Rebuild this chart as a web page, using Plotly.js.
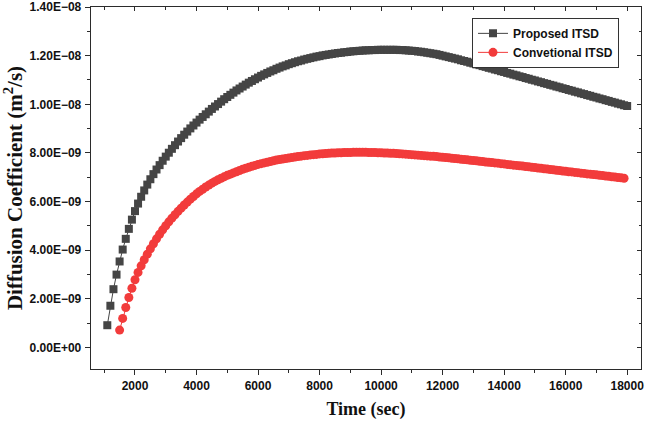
<!DOCTYPE html>
<html>
<head>
<meta charset="utf-8">
<script src="https://cdn.plot.ly/plotly-3.0.1.min.js"></script>
<style>
  html, body { margin: 0; padding: 0; background: #ffffff; }
  #chart { width: 646px; height: 421px; }
</style>
</head>
<body>
<div id="chart"></div>
<script>
// Time axis (sec) for the proposed ITSD series
const proposedTime = [
  1100, 1200, 1300, 1400, 1500, 1600, 1700, 1800, 1900, 2000,
  2100, 2200, 2300, 2400, 2500, 2600, 2700, 2800, 2900, 3000,
  3100, 3200, 3300, 3400, 3500, 3600, 3700, 3800, 3900, 4000,
  4100, 4200, 4300, 4400, 4500, 4600, 4700, 4800, 4900, 5000,
  5100, 5200, 5300, 5400, 5500, 5600, 5700, 5800, 5900, 6000,
  6100, 6200, 6300, 6400, 6500, 6600, 6700, 6800, 6900, 7000,
  7100, 7200, 7300, 7400, 7500, 7600, 7700, 7800, 7900, 8000,
  8100, 8200, 8300, 8400, 8500, 8600, 8700, 8800, 8900, 9000,
  9100, 9200, 9300, 9400, 9500, 9600, 9700, 9800, 9900, 10000,
  10100, 10200, 10300, 10400, 10500, 10600, 10700, 10800, 10900, 11000,
  11100, 11200, 11300, 11400, 11500, 11600, 11700, 11800, 11900, 12000,
  12100, 12200, 12300, 12400, 12500, 12600, 12700, 12800, 12900, 13000,
  13100, 13200, 13300, 13400, 13500, 13600, 13700, 13800, 13900, 14000,
  14100, 14200, 14300, 14400, 14500, 14600, 14700, 14800, 14900, 15000,
  15100, 15200, 15300, 15400, 15500, 15600, 15700, 15800, 15900, 16000,
  16100, 16200, 16300, 16400, 16500, 16600, 16700, 16800, 16900, 17000,
  17100, 17200, 17300, 17400, 17500, 17600, 17700, 17800, 17900, 18000
];

// Diffusion coefficient of the proposed ITSD, in units of 1E-09 m^2/s
const proposedD = [
  0.92, 1.72, 2.40, 3.00, 3.54, 4.03, 4.47, 4.88, 5.26, 5.61,
  5.92, 6.20, 6.46, 6.70, 6.92, 7.13, 7.32, 7.50, 7.68, 7.85,
  8.01, 8.17, 8.32, 8.47, 8.61, 8.75, 8.88, 9.01, 9.13, 9.25,
  9.37, 9.48, 9.59, 9.70, 9.81, 9.91, 10.01, 10.11, 10.21, 10.30,
  10.39, 10.48, 10.57, 10.65, 10.73, 10.81, 10.89, 10.96, 11.03, 11.10,
  11.17, 11.23, 11.29, 11.35, 11.40, 11.46, 11.51, 11.56, 11.60, 11.65,
  11.69, 11.73, 11.77, 11.80, 11.84, 11.87, 11.90, 11.93, 11.96, 11.98,
  12.01, 12.03, 12.05, 12.07, 12.09, 12.11, 12.12, 12.14, 12.15, 12.17,
  12.18, 12.19, 12.20, 12.21, 12.22, 12.22, 12.23, 12.23, 12.24, 12.24,
  12.24, 12.24, 12.24, 12.24, 12.24, 12.23, 12.23, 12.22, 12.21, 12.20,
  12.19, 12.17, 12.16, 12.14, 12.12, 12.10, 12.08, 12.06, 12.03, 12.00,
  11.97, 11.94, 11.91, 11.88, 11.85, 11.81, 11.78, 11.75, 11.71, 11.68,
  11.64, 11.61, 11.57, 11.54, 11.50, 11.47, 11.43, 11.40, 11.36, 11.33,
  11.29, 11.26, 11.22, 11.19, 11.15, 11.12, 11.08, 11.05, 11.01, 10.98,
  10.94, 10.91, 10.87, 10.84, 10.80, 10.77, 10.73, 10.70, 10.66, 10.63,
  10.59, 10.56, 10.52, 10.49, 10.45, 10.42, 10.38, 10.35, 10.31, 10.28,
  10.24, 10.21, 10.17, 10.14, 10.10, 10.07, 10.03, 10.00, 9.96, 9.93
];

// Time axis (sec) for the conventional ITSD series
const conventionalTime = [
  1500, 1600, 1700, 1800, 1900, 2000,
  2100, 2200, 2300, 2400, 2500, 2600, 2700, 2800, 2900, 3000,
  3100, 3200, 3300, 3400, 3500, 3600, 3700, 3800, 3900, 4000,
  4100, 4200, 4300, 4400, 4500, 4600, 4700, 4800, 4900, 5000,
  5100, 5200, 5300, 5400, 5500, 5600, 5700, 5800, 5900, 6000,
  6100, 6200, 6300, 6400, 6500, 6600, 6700, 6800, 6900, 7000,
  7100, 7200, 7300, 7400, 7500, 7600, 7700, 7800, 7900, 8000,
  8100, 8200, 8300, 8400, 8500, 8600, 8700, 8800, 8900, 9000,
  9100, 9200, 9300, 9400, 9500, 9600, 9700, 9800, 9900, 10000,
  10100, 10200, 10300, 10400, 10500, 10600, 10700, 10800, 10900, 11000,
  11100, 11200, 11300, 11400, 11500, 11600, 11700, 11800, 11900, 12000,
  12100, 12200, 12300, 12400, 12500, 12600, 12700, 12800, 12900, 13000,
  13100, 13200, 13300, 13400, 13500, 13600, 13700, 13800, 13900, 14000,
  14100, 14200, 14300, 14400, 14500, 14600, 14700, 14800, 14900, 15000,
  15100, 15200, 15300, 15400, 15500, 15600, 15700, 15800, 15900, 16000,
  16100, 16200, 16300, 16400, 16500, 16600, 16700, 16800, 16900, 17000,
  17100, 17200, 17300, 17400, 17500, 17600, 17700, 17800, 17900
];

// Diffusion coefficient of the conventional ITSD, in units of 1E-09 m^2/s
const conventionalD = [
  0.72, 1.20, 1.65, 2.06, 2.44, 2.79,
  3.09, 3.36, 3.61, 3.84, 4.06, 4.27, 4.47, 4.66, 4.84, 5.01,
  5.17, 5.32, 5.46, 5.60, 5.73, 5.86, 5.98, 6.10, 6.21, 6.32,
  6.42, 6.51, 6.60, 6.68, 6.76, 6.83, 6.90, 6.96, 7.02, 7.08,
  7.13, 7.18, 7.23, 7.28, 7.33, 7.37, 7.41, 7.45, 7.49, 7.53,
  7.56, 7.59, 7.62, 7.65, 7.68, 7.71, 7.73, 7.75, 7.77, 7.79,
  7.81, 7.83, 7.85, 7.87, 7.89, 7.90, 7.92, 7.93, 7.94, 7.96,
  7.97, 7.98, 7.99, 8.00, 8.00, 8.01, 8.01, 8.02, 8.02, 8.02,
  8.03, 8.03, 8.03, 8.03, 8.03, 8.02, 8.02, 8.02, 8.01, 8.01,
  8.00, 8.00, 7.99, 7.99, 7.98, 7.97, 7.96, 7.95, 7.94, 7.93,
  7.92, 7.91, 7.90, 7.89, 7.88, 7.87, 7.86, 7.85, 7.83, 7.82,
  7.81, 7.80, 7.78, 7.77, 7.76, 7.74, 7.73, 7.72, 7.70, 7.69,
  7.68, 7.66, 7.65, 7.63, 7.62, 7.61, 7.59, 7.58, 7.56, 7.55,
  7.53, 7.52, 7.50, 7.49, 7.47, 7.46, 7.44, 7.43, 7.41, 7.40,
  7.38, 7.37, 7.35, 7.34, 7.32, 7.31, 7.29, 7.28, 7.26, 7.25,
  7.23, 7.22, 7.20, 7.19, 7.17, 7.16, 7.14, 7.13, 7.11, 7.10,
  7.08, 7.07, 7.05, 7.04, 7.02, 7.01, 6.99, 6.98, 6.96
];

// Y tick positions (1E-09 units) and their scientific-notation labels
const yTickVals = [0, 2, 4, 6, 8, 10, 12, 14];
const yTickText = ['0.00E+00', '2.00E\u221209', '4.00E\u221209', '6.00E\u221209',
                   '8.00E\u221209', '1.00E\u221208', '1.20E\u221208', '1.40E\u221208'];

const seriesNames = ['Proposed ITSD', 'Convetional ITSD'];

const xRange = [570, 18450];
const yRange = [-0.88, 14];

const axisColor = '#2b2b2b';
const tickFont = { family: 'Liberation Sans, Arial, sans-serif', size: 12, color: '#111', weight: 700 };
const titleFont = { family: 'Liberation Serif, Times New Roman, serif', size: 18, color: '#111', weight: 700 };

const traces = [
  {
    x: proposedTime, y: proposedD, name: seriesNames[0],
    type: 'scatter', mode: 'lines+markers',
    line: { color: '#454545', width: 1 },
    marker: { symbol: 'square', size: 8, color: '#454545' },
    hoverinfo: 'x+y'
  },
  {
    x: conventionalTime, y: conventionalD, name: seriesNames[1],
    type: 'scatter', mode: 'lines+markers',
    line: { color: '#f23b3b', width: 1 },
    marker: { symbol: 'circle', size: 9, color: '#f23b3b' },
    hoverinfo: 'x+y'
  },
  // empty trace that hosts the top/right tick axes
  { x: [], y: [], xaxis: 'x2', yaxis: 'y2', showlegend: false, hoverinfo: 'skip', type: 'scatter' }
];

const layout = {
  width: 646, height: 421,
  margin: { l: 91, r: 5, t: 7, b: 52 },
  paper_bgcolor: '#ffffff', plot_bgcolor: '#ffffff',
  showlegend: true,
  legend: {
    x: 0.96, xanchor: 'right', y: 0.97, yanchor: 'top',
    bgcolor: '#ffffff', bordercolor: '#333333', borderwidth: 1,
    font: { family: 'Liberation Sans, Arial, sans-serif', size: 12, color: '#111', weight: 700 },
    tracegroupgap: 0
  },
  xaxis: {
    range: xRange, showgrid: false, zeroline: false,
    showline: true, linecolor: axisColor, linewidth: 1.3, mirror: true,
    ticks: 'outside', ticklen: 5, tickwidth: 1, tickcolor: axisColor,
    dtick: 2000, tick0: 0, tickformat: 'd',
    minor: { ticks: 'outside', ticklen: 3, dtick: 1000, tick0: 0, tickcolor: axisColor, showgrid: false },
    tickfont: tickFont,
    title: { text: 'Time (sec)', font: titleFont, standoff: 10 }
  },
  yaxis: {
    range: yRange, showgrid: false, zeroline: false,
    showline: true, linecolor: axisColor, linewidth: 1.3, mirror: true,
    ticks: 'outside', ticklen: 5, tickwidth: 1, tickcolor: axisColor,
    tickmode: 'array', tickvals: yTickVals, ticktext: yTickText,
    minor: { ticks: 'outside', ticklen: 3, dtick: 1, tick0: 0, tickcolor: axisColor, showgrid: false },
    tickfont: tickFont,
    ticklabelstandoff: 1,
    title: { text: 'Diffusion Coefficient (m<sup>2</sup>/s)', font: Object.assign({}, titleFont, { size: 21 }), standoff: 6 }
  },
  xaxis2: {
    overlaying: 'x', side: 'top', anchor: 'y', range: xRange,
    showgrid: false, zeroline: false, showline: false, showticklabels: false,
    ticks: 'inside', ticklen: 4, tickcolor: axisColor, dtick: 2000, tick0: 0,
    minor: { ticks: 'inside', ticklen: 2.5, dtick: 1000, tick0: 0, tickcolor: axisColor, showgrid: false }
  },
  yaxis2: {
    overlaying: 'y', side: 'right', anchor: 'x', range: yRange,
    showgrid: false, zeroline: false, showline: false, showticklabels: false,
    ticks: 'inside', ticklen: 4, tickcolor: axisColor, dtick: 2, tick0: 0,
    minor: { ticks: 'inside', ticklen: 2.5, dtick: 1, tick0: 0, tickcolor: axisColor, showgrid: false }
  }
};

Plotly.newPlot('chart', traces, layout, { displayModeBar: false, staticPlot: true });
</script>
</body>
</html>
